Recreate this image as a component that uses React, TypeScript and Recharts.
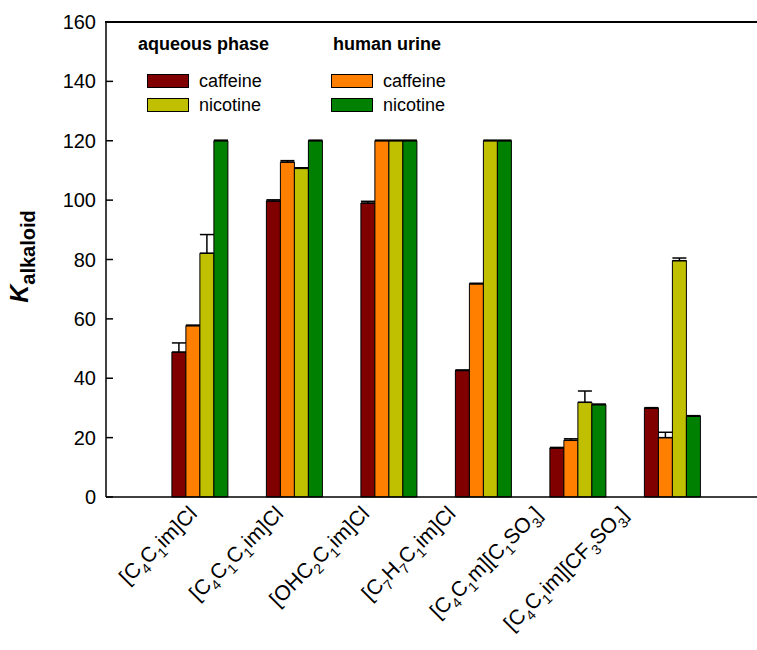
import React from 'react';
import { BarChart, Bar, XAxis, YAxis, ErrorBar, Label } from 'recharts';

// ionic liquids on the x axis, "_n" marks a subscript digit
const categories = [
    '[C_4C_1im]Cl',
    '[C_4C_1C_1im]Cl',
    '[OHC_2C_1im]Cl',
    '[C_7H_7C_1im]Cl',
    '[C_4C_1m][C_1SO_3]',
    '[C_4C_1im][CF_3SO_3]',
];

// K alkaloid values
const aqCaffeine = [48.8, 99.7, 99.0, 42.6, 16.5, 29.9];
const urCaffeine = [57.7, 112.8, 120, 71.8, 19.1, 20.0];
const aqNicotine = [82.1, 110.7, 120, 120, 31.9, 79.6];
const urNicotine = [120, 120, 120, 120, 31.1, 27.2];

// upper error only
const aqCaffeineErr = [3.1, 0.4, 0.6, 0.2, 0.2, 0.2];
const urCaffeineErr = [0.2, 0.5, 0.2, 0.2, 0.5, 1.8];
const aqNicotineErr = [6.3, 0.2, 0.2, 0.2, 3.8, 0.9];
const urNicotineErr = [0.2, 0.2, 0.2, 0.2, 0.2, 0.2];

const yTicks = [0, 20, 40, 60, 80, 100, 120, 140, 160];

const legendGroups = ['aqueous phase', 'human urine'];
const legendNames = ['caffeine', 'nicotine'];

const COLORS = {
    aqCaffeine: '#800000',
    urCaffeine: '#FF8000',
    aqNicotine: '#C0C000',
    urNicotine: '#008000',
};

const FONT = '"Liberation Sans", Arial, sans-serif';

const data = categories.map((name, i) => ({
    name,
    aqCaffeine: aqCaffeine[i],
    urCaffeine: urCaffeine[i],
    aqNicotine: aqNicotine[i],
    urNicotine: urNicotine[i],
    aqCaffeineErr: [0, aqCaffeineErr[i]],
    urCaffeineErr: [0, urCaffeineErr[i]],
    aqNicotineErr: [0, aqNicotineErr[i]],
    urNicotineErr: [0, urNicotineErr[i]],
}));

const parseSub = (s: string) => {
    const parts: { t: string; sub: boolean }[] = [];
    let buf = '';
    for (let i = 0; i < s.length; i++) {
        if (s[i] === '_') {
            if (buf) parts.push({ t: buf, sub: false });
            buf = '';
            parts.push({ t: s[i + 1], sub: true });
            i++;
        } else {
            buf += s[i];
        }
    }
    if (buf) parts.push({ t: buf, sub: false });
    return parts;
};

const SUB_SHIFT = 6;

const XTick = (props: any) => {
    const { x, y, payload } = props;
    const idx = categories.indexOf(payload.value);
    const ex = x - 2 - idx * 8.3;
    const ey = y + 18;
    let lowered = false;
    const spans = parseSub(payload.value).map((p, k) => {
        let dy = 0;
        if (p.sub && !lowered) { dy = SUB_SHIFT; lowered = true; }
        else if (!p.sub && lowered) { dy = -SUB_SHIFT; lowered = false; }
        return (
            <tspan key={k} dy={dy} fontSize={p.sub ? 14 : 21}>{p.t}</tspan>
        );
    });
    return (
        <text x={ex} y={ey} textAnchor="end" transform={`rotate(-45 ${ex} ${ey})`}
            fontFamily={FONT} fill="#000">
            {spans}
        </text>
    );
};

const YTick = (props: any) => {
    const { x, y, payload } = props;
    return (
        <g>
            <line x1={x + 10} x2={x + 17} y1={y} y2={y} stroke="#000" strokeWidth={1.5} />
            <text x={x} y={y} dy={7} textAnchor="end" fontSize={20} fontFamily={FONT} fill="#000">
                {payload.value}
            </text>
        </g>
    );
};

const YTitle = (props: any) => {
    const vb = props.viewBox || {};
    const cy = vb.height ? vb.y + vb.height / 2 - 3 : 256;
    const cx = 28;
    return (
        <text x={cx} y={cy} textAnchor="middle" transform={`rotate(-90 ${cx} ${cy})`}
            fontFamily={FONT} fontWeight="bold" fill="#000">
            <tspan fontSize={25} fontStyle="italic">K</tspan>
            <tspan fontSize={20} dy={7}>alkaloid</tspan>
        </text>
    );
};

const Swatch = ({ color }: { color: string }) => (
    <span style={{ display: 'inline-block', width: 40, height: 12, background: color, border: '1px solid #000' }} />
);

const LegendBlock = () => {
    const groupColors = [
        [COLORS.aqCaffeine, COLORS.aqNicotine],
        [COLORS.urCaffeine, COLORS.urNicotine],
    ];
    const lefts = [138, 331];
    return (
        <>
            {legendGroups.map((g, gi) => (
                <div key={g} style={{ position: 'absolute', left: lefts[gi], top: 35, fontFamily: FONT }}>
                    <div style={{ fontSize: 18, fontWeight: 'bold', lineHeight: '18px', marginLeft: gi === 0 ? 0 : 2, whiteSpace: 'nowrap' }}>{g}</div>
                    {legendNames.map((n, ni) => (
                        <div key={n} style={{
                            position: 'absolute', top: 39 + ni * 24, left: gi === 0 ? 9 : 0,
                            display: 'flex', alignItems: 'center', whiteSpace: 'nowrap',
                        }}>
                            <Swatch color={groupColors[gi][ni]} />
                            <span style={{ fontSize: 18, lineHeight: '14px', marginLeft: 10 }}>{n}</span>
                        </div>
                    ))}
                </div>
            ))}
        </>
    );
};

const App: React.FC = () => {
    const pad = { left: 47, right: 37 };
    return (
        <div style={{ position: 'absolute', left: 0, top: 0, width: 757, height: 650, background: '#fff' }}>
            <BarChart width={757} height={650} data={data}
                margin={{ top: 22, right: 0, bottom: 0, left: 0 }}
                barCategoryGap="20%" barGap={0}>
                <XAxis dataKey="name" interval={0} height={153} padding={pad}
                    tickLine={false} tickSize={0} tickMargin={0}
                    axisLine={{ stroke: '#000', strokeWidth: 1.5 }} tick={<XTick />} />
                <YAxis width={106} domain={[0, 160]} ticks={yTicks} interval={0}
                    tickLine={false} tickSize={0} tickMargin={10}
                    axisLine={{ stroke: '#000', strokeWidth: 1.5 }} tick={<YTick />}>
                    <Label content={<YTitle />} />
                </YAxis>
                <Bar dataKey="aqCaffeine" fill={COLORS.aqCaffeine} stroke="#000" strokeWidth={1} isAnimationActive={false}>
                    <ErrorBar dataKey="aqCaffeineErr" width={7} stroke="#000" strokeWidth={1.5} />
                </Bar>
                <Bar dataKey="urCaffeine" fill={COLORS.urCaffeine} stroke="#000" strokeWidth={1} isAnimationActive={false}>
                    <ErrorBar dataKey="urCaffeineErr" width={7} stroke="#000" strokeWidth={1.5} />
                </Bar>
                <Bar dataKey="aqNicotine" fill={COLORS.aqNicotine} stroke="#000" strokeWidth={1} isAnimationActive={false}>
                    <ErrorBar dataKey="aqNicotineErr" width={7} stroke="#000" strokeWidth={1.5} />
                </Bar>
                <Bar dataKey="urNicotine" fill={COLORS.urNicotine} stroke="#000" strokeWidth={1} isAnimationActive={false}>
                    <ErrorBar dataKey="urNicotineErr" width={7} stroke="#000" strokeWidth={1.5} />
                </Bar>
            </BarChart>
            {/* top frame line of the plot box */}
            <div style={{ position: 'absolute', left: 105, top: 21, width: 652, height: 1.5, background: '#000' }} />
            <LegendBlock />
        </div>
    );
};

export default App;
